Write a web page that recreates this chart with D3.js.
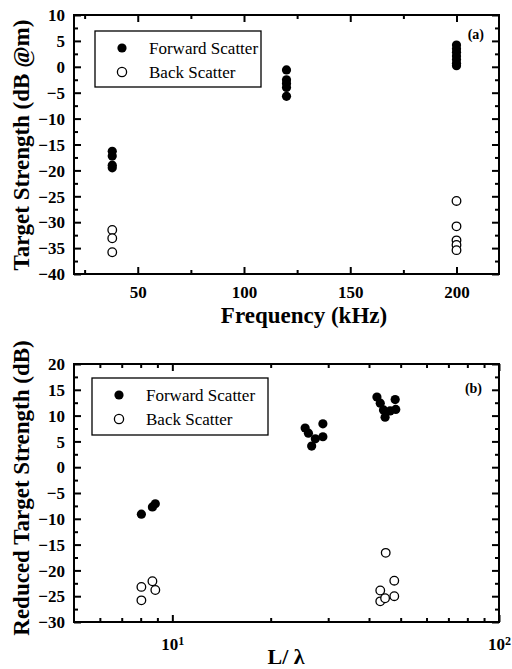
<!DOCTYPE html>
<html>
<head>
<meta charset="utf-8">
<script src="https://cdn.jsdelivr.net/npm/d3@7"></script>
<style>
  body { margin: 0; background: #fff; }
  svg text { font-family: "Liberation Serif", "DejaVu Serif", serif; }
</style>
</head>
<body>
<script>
// panel (a): target strength vs frequency
const freqTicks = [50, 100, 150, 200];
const freqMinor = [25, 75, 125, 175];
const tsTicks = [-40, -35, -30, -25, -20, -15, -10, -5, 0, 5, 10];
const aForward = [
  [38, -16.3], [38, -17.2], [38, -19.0], [38, -19.5],
  [120, -0.6], [120, -2.5], [120, -3.2], [120, -4.0], [120, -5.7],
  [200, 4.2], [200, 3.5], [200, 2.8], [200, 2.1], [200, 1.4], [200, 0.7], [200, 0.2]
];
const aBack = [
  [38, -31.5], [38, -33.1], [38, -35.8],
  [200, -25.9], [200, -30.8], [200, -33.5], [200, -34.4], [200, -35.4]
];

// panel (b): reduced target strength vs L/lambda
const ratioMajor = [10, 100];
const ratioMinor = [6, 7, 8, 9, 20, 30, 40, 50, 60, 70, 80, 90];
const rtsTicks = [-30, -25, -20, -15, -10, -5, 0, 5, 10, 15, 20];
const bForward = [
  [8.04, -9.1], [8.69, -7.7], [8.87, -7.1],
  [25.5, 7.6], [26.1, 6.6], [26.7, 4.1], [27.4, 5.5], [28.9, 8.4], [28.9, 5.9],
  [42.3, 13.6], [43.3, 12.4], [44.3, 11.1], [44.8, 9.7], [46.4, 10.9], [48.1, 13.1], [48.3, 11.2]
];
const bBack = [
  [8.04, -23.2], [8.69, -22.1], [8.87, -23.8], [8.04, -25.8],
  [43.3, -23.9], [43.3, -26.0], [44.8, -25.4], [45.0, -16.6], [47.8, -22.0], [47.8, -25.0]
];

const legendLabels = ["Forward Scatter", "Back Scatter"];

const W = 512, H = 669;
const FONT = "'Liberation Serif', 'DejaVu Serif', serif";
const svg = d3.select("body").append("svg").attr("width", W).attr("height", H)
  .attr("font-family", FONT);

function minorOf(ticks) {
  const out = [];
  for (let i = 0; i < ticks.length - 1; i++) out.push((ticks[i] + ticks[i + 1]) / 2);
  return out;
}

function drawPanel(opt) {
  const g = svg.append("g");
  const x = opt.x, y = opt.y;
  const [x0, x1] = x.range(), [y1, y0] = y.range();

  const inward = (axis, size) => axis.tickSizeInner(-size).tickSizeOuter(0);

  // minor ticks on all sides
  const minorX = opt.xMinor, minorY = minorOf(opt.yTicks);
  [[d3.axisBottom(x), y1], [d3.axisTop(x), y0]].forEach(([ax, ty]) => {
    g.append("g").attr("transform", `translate(0,${ty})`)
      .call(inward(ax.tickValues(minorX).tickFormat(""), 4));
  });
  [[d3.axisLeft(y), x0], [d3.axisRight(y), x1]].forEach(([ax, tx]) => {
    g.append("g").attr("transform", `translate(${tx},0)`)
      .call(inward(ax.tickValues(minorY).tickFormat(""), 4));
  });

  // major ticks
  g.append("g").attr("transform", `translate(0,${y1})`).attr("class", "xlab")
    .call(inward(d3.axisBottom(x).tickValues(opt.xTicks).tickFormat(opt.xFormat).tickPadding(opt.xPad), 7));
  g.append("g").attr("transform", `translate(0,${y0})`)
    .call(inward(d3.axisTop(x).tickValues(opt.xTicks).tickFormat(""), 7));
  g.append("g").attr("transform", `translate(${x0},0)`).attr("class", "ylab")
    .call(inward(d3.axisLeft(y).tickValues(opt.yTicks).tickFormat(d3.format("d")).tickPadding(9), 7));
  g.append("g").attr("transform", `translate(${x1},0)`)
    .call(inward(d3.axisRight(y).tickValues(opt.yTicks).tickFormat(""), 7));

  g.selectAll(".domain").remove();
  g.selectAll(".tick line").attr("stroke", "#000").attr("stroke-width", 2);
  g.selectAll("g").attr("font-family", FONT);
  g.selectAll(".xlab text, .ylab text")
    .attr("fill", "#000")
    .attr("font-family", FONT)
    .style("font-size", "17px")
    .style("font-weight", "bold");
  g.selectAll(".ylab text").attr("dy", "0.34em");

  if (opt.logLabels) {
    g.selectAll(".xlab text").each(function (d) {
      const t = d3.select(this).text("");
      t.append("tspan").text("10");
      t.append("tspan").attr("dy", "-0.45em").style("font-size", "12px").text(Math.round(Math.log10(d)));
    });
  }

  g.append("rect")
    .attr("x", x0).attr("y", y0).attr("width", x1 - x0).attr("height", y1 - y0)
    .attr("fill", "none").attr("stroke", "#000").attr("stroke-width", 2);

  // points
  g.append("g").selectAll("circle").data(opt.forward).join("circle")
    .attr("cx", d => x(d[0])).attr("cy", d => y(d[1])).attr("r", 4.6)
    .attr("fill", "#000");
  g.append("g").selectAll("circle").data(opt.back).join("circle")
    .attr("cx", d => x(d[0])).attr("cy", d => y(d[1])).attr("r", 4.3)
    .attr("fill", "#fff").attr("stroke", "#000").attr("stroke-width", 1.3);

  // legend
  const lg = g.append("g").attr("transform", `translate(${opt.legend[0]},${opt.legend[1]})`);
  lg.append("rect").attr("width", opt.legend[2]).attr("height", opt.legend[3])
    .attr("fill", "#fff").attr("stroke", "#000").attr("stroke-width", 1.3);
  legendLabels.forEach((lab, i) => {
    const cy = 17 + i * 24;
    lg.append("circle").attr("cx", 27).attr("cy", cy).attr("r", 4.6)
      .attr("fill", i === 0 ? "#000" : "#fff").attr("stroke", "#000").attr("stroke-width", i === 0 ? 0 : 1.3);
    lg.append("text").attr("x", 54).attr("y", cy + 6)
      .style("font-size", "17px").text(lab);
  });

  g.append("text").attr("x", opt.tag[0]).attr("y", opt.tag[1])
    .attr("text-anchor", "end").style("font-size", "14px").style("font-weight", "bold")
    .text(opt.tagText);

  g.append("text").attr("x", opt.xTitleX).attr("y", opt.xTitleY)
    .attr("text-anchor", "middle").style("font-size", opt.xTitleSize).style("font-weight", "bold")
    .text(opt.xTitle);

  g.append("text")
    .attr("transform", `translate(${opt.yTitleX},${opt.yTitleY}) rotate(-90)`)
    .attr("text-anchor", "middle").style("font-size", "23px").style("font-weight", "bold")
    .text(opt.yTitle);
}

drawPanel({
  x: d3.scaleLinear().domain([20, 220]).range([74, 499]),
  y: d3.scaleLinear().domain([-40, 10]).range([274, 15]),
  xTicks: freqTicks, xMinor: freqMinor, yTicks: tsTicks,
  xFormat: d3.format("d"), xPad: 12,
  forward: aForward, back: aBack,
  legend: [95, 31, 166, 56],
  tag: [484, 39], tagText: "(a)",
  xTitle: "Frequency (kHz)", xTitleX: 304, xTitleY: 323, xTitleSize: "23px",
  yTitle: "Target Strength (dB @m)", yTitleX: 29, yTitleY: 145
});

drawPanel({
  x: d3.scaleLog().domain([5, 100]).range([74, 499]),
  y: d3.scaleLinear().domain([-30, 20]).range([622, 364]),
  xTicks: ratioMajor, xMinor: ratioMinor, yTicks: rtsTicks,
  xFormat: d => d, logLabels: true, xPad: 16,
  forward: bForward, back: bBack,
  legend: [92, 378, 176, 57],
  tag: [482, 393], tagText: "(b)",
  xTitle: "L/ λ", xTitleX: 286, xTitleY: 664, xTitleSize: "22px",
  yTitle: "Reduced Target Strength (dB)", yTitleX: 29, yTitleY: 488
});
</script>
</body>
</html>
